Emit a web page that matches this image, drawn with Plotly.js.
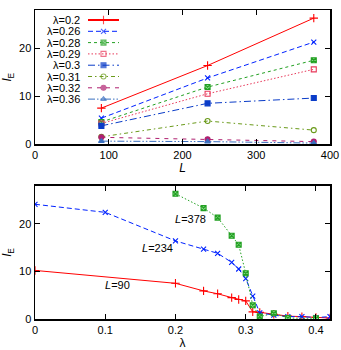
<!DOCTYPE html>
<html>
<head>
<meta charset="utf-8">
<script src="https://cdn.plot.ly/plotly-3.0.1.min.js"></script>
<style>body{margin:0;background:#fff} #plot{width:341px;height:350px}</style>
</head>
<body>
<div id="plot"></div>
<script>
// top panel: l_E against system size L, one curve per lambda
let sizes = [90, 234, 378]
let lambdaLabels = ['λ=0.2', 'λ=0.26', 'λ=0.28', 'λ=0.29', 'λ=0.3', 'λ=0.31', 'λ=0.32', 'λ=0.36']
let lE_020 = [7.5, 16.4, 26.3]
let lE_026 = [5.4, 13.8, 21.3]
let lE_028 = [4.6, 11.9, 17.5]
let lE_029 = [4.3, 10.5, 15.6]
let lE_030 = [3.8, 8.5, 9.6]
let lE_031 = [1.5, 4.8, 2.9]
let lE_032 = [1.4, 1.0, 0.5]
let lE_036 = [0.6, 0.5, 0.2]

// bottom panel: l_E against lambda, one curve per L
let lambda90 = [0, 0.2, 0.24, 0.26, 0.28, 0.29, 0.3, 0.31, 0.32, 0.34, 0.36, 0.38, 0.4, 0.42]
let lE90 = [10.2, 7.5, 5.9, 5.3, 4.5, 4.1, 3.8, 1.5, 1.4, 1.0, 0.6, 0.5, 0.3, 0.2]
let lambda234 = [0, 0.1, 0.2, 0.24, 0.26, 0.28, 0.29, 0.3, 0.31, 0.32, 0.34, 0.36, 0.38, 0.4, 0.42]
let lE234 = [24.1, 22.4, 16.4, 14.7, 13.8, 11.9, 10.5, 8.5, 4.8, 1.3, 0.8, 0.5, 0.5, 0.3, 0.5]
let lambda378 = [0.2, 0.24, 0.26, 0.28, 0.29, 0.3, 0.31, 0.32, 0.34, 0.36, 0.4]
let lE378 = [26.3, 23.3, 21.3, 17.5, 15.6, 9.6, 2.9, 0.5, 1.2, 0.2, 0.15]
let curveLabels = ['<i>L</i>=90', '<i>L</i>=234', '<i>L</i>=378']

let font = 'Liberation Sans, Arial, sans-serif'

// gnuplot-like styles
let styles = [
  {color: '#ff0000', fill: '#ff0000', dash: 'solid', symbol: 'cross-thin-open', size: 6},
  {color: '#0022ff', fill: '#0022ff', dash: '5px,3px', symbol: 'x-thin-open', size: 5},
  {color: '#22a022', fill: '#8ad88a', dash: '3px,3px', symbol: 'square-x', size: 5},
  {color: '#e8385a', fill: '#e8385a', dash: '1.5px,2px', symbol: 'square-open', size: 5},
  {color: '#0a3cc8', fill: '#0a3cc8', dash: '7px,3px,1.5px,3px', symbol: 'square', size: 5},
  {color: '#6a9a1a', fill: '#6a9a1a', dash: '4px,3px,1.5px,3px', symbol: 'circle-open', size: 5},
  {color: '#b02070', fill: '#b02070', dash: '4px,5px', symbol: 'circle', size: 5},
  {color: '#3a6fbf', fill: '#3a6fbf', dash: '7px,2px,1.5px,2px,1.5px,2px', symbol: 'triangle-up', size: 5}
]
let topSeries = [lE_020, lE_026, lE_028, lE_029, lE_030, lE_031, lE_032, lE_036]

let traces = []
for (let i = 0; i < topSeries.length; i++) {
  let s = styles[i]
  traces.push({
    x: sizes, y: topSeries[i], xaxis: 'x', yaxis: 'y',
    mode: 'lines+markers', showlegend: false, cliponaxis: false,
    line: {color: s.color, width: 1, dash: s.dash},
    marker: {symbol: s.symbol, size: s.size, color: s.fill, line: {color: s.color, width: 1.1}}
  })
}

// bottom panel curves reuse the first three styles
let bottomX = [lambda90, lambda234, lambda378]
let bottomY = [lE90, lE234, lE378]
let bottomStyle = [styles[0], styles[1], Object.assign({}, styles[2], {dash: '1.5px,2px'})]
for (let i = 0; i < 3; i++) {
  let s = bottomStyle[i]
  traces.push({
    x: bottomX[i], y: bottomY[i], xaxis: 'x2', yaxis: 'y2',
    mode: 'lines+markers', showlegend: false,
    line: {color: s.color, width: 1, dash: s.dash},
    marker: {symbol: s.symbol, size: s.size, color: s.fill, line: {color: s.color, width: 1.1}}
  })
}

// key drawn gnuplot style (text, then sample) on a pixel overlay of the top panel
let keyRow0 = 20, keyStep = 11.3
let annotations = []
for (let i = 0; i < lambdaLabels.length; i++) {
  let s = styles[i]
  let ky = keyRow0 + i * keyStep
  traces.push({
    x: [88, 103.5, 119], y: [ky, ky, ky], xaxis: 'x3', yaxis: 'y3',
    mode: 'lines+markers', showlegend: false, hoverinfo: 'skip',
    line: {color: s.color, width: i == 0 ? 2 : 1, dash: s.dash},
    marker: {symbol: s.symbol, size: [0, s.size, 0], color: s.fill, line: {color: s.color, width: 1.1}}
  })
  annotations.push({
    text: lambdaLabels[i], xref: 'x3', yref: 'y3', x: 82, y: ky,
    xanchor: 'right', yanchor: 'middle', showarrow: false,
    font: {family: font, size: 11, color: '#000'}
  })
}

// curve labels in the bottom panel
let labelX = [0.118, 0.175, 0.222]
let labelY = [7.2, 15.0, 21.0]
for (let i = 0; i < 3; i++) {
  annotations.push({
    text: curveLabels[i], xref: 'x2', yref: 'y2', x: labelX[i], y: labelY[i],
    showarrow: false, font: {family: font, size: 11, color: '#000'}
  })
}

let axisStyle = {
  showline: true, mirror: 'ticks', linecolor: '#000', linewidth: 1.5,
  ticks: 'inside', ticklen: 5, tickcolor: '#000', tickwidth: 1,
  showgrid: false, zeroline: false,
  tickfont: {family: font, size: 11, color: '#000'}
}

let layout = {
  width: 341, height: 350,
  margin: {l: 35, r: 11, t: 10, b: 31},
  paper_bgcolor: '#fff', plot_bgcolor: 'rgba(0,0,0,0)',
  showlegend: false,
  xaxis: Object.assign({}, axisStyle, {
    domain: [0, 1], anchor: 'y', range: [0, 400], tickvals: [0, 100, 200, 300, 400],
    title: {text: '<i>L</i>', standoff: 0, font: {family: font, size: 12, color: '#000'}}
  }),
  yaxis: Object.assign({}, axisStyle, {
    domain: [0.5663, 1], anchor: 'x', range: [0, 28], tickvals: [0, 10, 20],
    title: {text: '<i>l</i><sub>E</sub>', standoff: 6, font: {family: font, size: 12, color: '#000'}}
  }),
  xaxis2: Object.assign({}, axisStyle, {
    domain: [0, 1], anchor: 'y2', range: [0, 0.42], tickvals: [0, 0.1, 0.2, 0.3, 0.4],
    title: {text: 'λ', standoff: 0, font: {family: font, size: 12, color: '#000'}}
  }),
  yaxis2: Object.assign({}, axisStyle, {
    domain: [0, 0.4314], anchor: 'x2', range: [0, 28], tickvals: [0, 10, 20],
    title: {text: '<i>l</i><sub>E</sub>', standoff: 6, font: {family: font, size: 12, color: '#000'}}
  }),
  xaxis3: {overlaying: 'x', anchor: 'y3', range: [35, 330], visible: false, fixedrange: true},
  yaxis3: {overlaying: 'y', anchor: 'x3', range: [144, 10], visible: false, fixedrange: true},
  annotations: annotations
}

Plotly.newPlot('plot', traces, layout, {staticPlot: true})
</script>
</body>
</html>
